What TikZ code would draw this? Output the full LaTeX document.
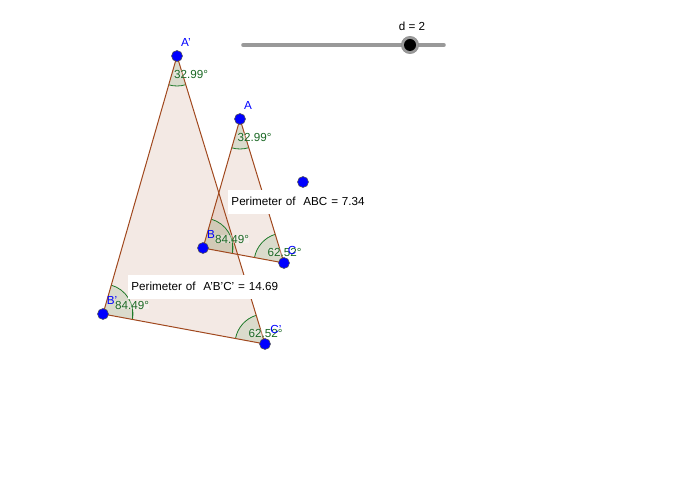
\documentclass[tikz,border=0pt]{standalone}
\usepackage{fontspec}
\setmainfont{Liberation Sans}
\definecolor{edgebrown}{HTML}{A0481E}
\definecolor{wedgegreen}{RGB}{0,100,0}
\definecolor{arcgreen}{HTML}{1F7A2A}
\definecolor{railgrey}{HTML}{999999}
\begin{document}
\begin{tikzpicture}[x = 0.75pt, y = 0.75pt,
    dot/.style = {draw = black!70, fill = blue, circle, inner sep = 0pt, minimum size = 8.2pt, line width = 0.4pt},
    ptlabel/.style = {text = blue, font = \fontsize{8.75}{10}\selectfont, inner sep = 0pt},
    angletext/.style = {text = arcgreen!85!black, font = \fontsize{8.75}{10}\selectfont, inner sep = 0pt, fill = white, fill opacity = 0.3, text opacity = 1},
    trifan/.style = {fill = edgebrown, fill opacity = 0.12},
    sideline/.style = {draw = edgebrown, line width = 0.75pt},
    wedgefan/.style = {fill = wedgegreen, fill opacity = 0.1},
    arcline/.style = {draw = arcgreen, line width = 0.6pt},
    infobox/.style = {fill = white, font = \fontsize{8.75}{10}\selectfont, inner sep = 0pt, minimum height = 18pt, anchor = west, text height = 6pt, text depth = 0pt}]
    \useasboundingbox (0,0) rectangle (700,500);
    \coordinate (a1) at (177,444);
    \coordinate (b1) at (103,186);
    \coordinate (c1) at (265,156);
    \coordinate (a) at (240,381);
    \coordinate (b) at (203,252);
    \coordinate (c) at (284,237);
    % triangles
    \fill[trifan] (a1) -- (b1) -- (c1) -- cycle;
    \fill[trifan] (a) -- (b) -- (c) -- cycle;
    % angle marks
    \foreach \p/\start/\stop in {a1/254/286.99, a/254/286.99, b1/-10.49/74, b/-10.49/74, c1/106.99/169.51, c/106.99/169.51} {
        \fill[wedgefan] (\p) -- ++(\start:30) arc (\start:\stop:30) -- cycle;
        \draw[arcline] (\p) ++(\start:30) arc (\start:\stop:30);
    }
    \draw[arcline] (b1) ++(-10.49:30) -- ++(90:12);
    \draw[arcline] (b) ++(-10.49:30) -- ++(90:12);
    \draw[sideline] (a1) -- (b1);
    \draw[sideline] (b1) -- (c1);
    \draw[sideline] (c1) -- (a1);
    \draw[sideline] (a) -- (b);
    \draw[sideline] (b) -- (c);
    \draw[sideline] (c) -- (a);
    % perimeter boxes
    \node[infobox, minimum width = 116pt, text width = 116pt] (ptwo) at (128,213) {\hspace{2.4pt}Perimeter of\ \ A'B'C' = 14.69};
    \node[infobox, minimum width = 104pt, text width = 104pt] (pone) at (228,298) {\hspace{2.4pt}Perimeter of\ \ ABC = 7.34};
    % angle values
    \node[angletext] (ta1) at (191,426) {32.99°};
    \node[angletext] (ta) at (254.5,363) {32.99°};
    \node[angletext] (tb1) at (132,195) {84.49°};
    \node[angletext] (tb) at (232,261) {84.49°};
    \node[angletext] (tc1) at (265.5,167) {62.52°};
    \node[angletext] (tc) at (284.5,248) {62.52°};
    % points
    \node[dot] (pa1) at (a1) {};
    \node[dot] (pb1) at (b1) {};
    \node[dot] (pc1) at (c1) {};
    \node[dot] (pa) at (a) {};
    \node[dot] (pb) at (b) {};
    \node[dot] (pc) at (c) {};
    \node[dot] (o) at (303,318) {};
    \node[ptlabel] (na1) at (186,458) {A'};
    \node[ptlabel] (na) at (248,395) {A};
    \node[ptlabel] (nb1) at (112,200) {B'};
    \node[ptlabel] (nb) at (211,266) {B};
    \node[ptlabel] (nc1) at (276,171) {C'};
    \node[ptlabel] (nc) at (292,250) {C};
    % slider
    \coordinate (railstart) at (243.5,455);
    \coordinate (railend) at (443.5,455);
    \draw[railgrey, line width = 3.5pt, line cap = round] (railstart) -- (railend);
    \node[circle, fill = railgrey, draw = black!45, line width = 0.4pt, minimum size = 13pt, inner sep = 0pt] (ring) at (410,455) {};
    \node[circle, fill = black, inner sep = 0pt, minimum size = 9pt] (knob) at (410,455) {};
    \node[font = \fontsize{8.75}{10}\selectfont, inner sep = 0pt] (d) at (412,474) {d = 2};
\end{tikzpicture}
\end{document}
